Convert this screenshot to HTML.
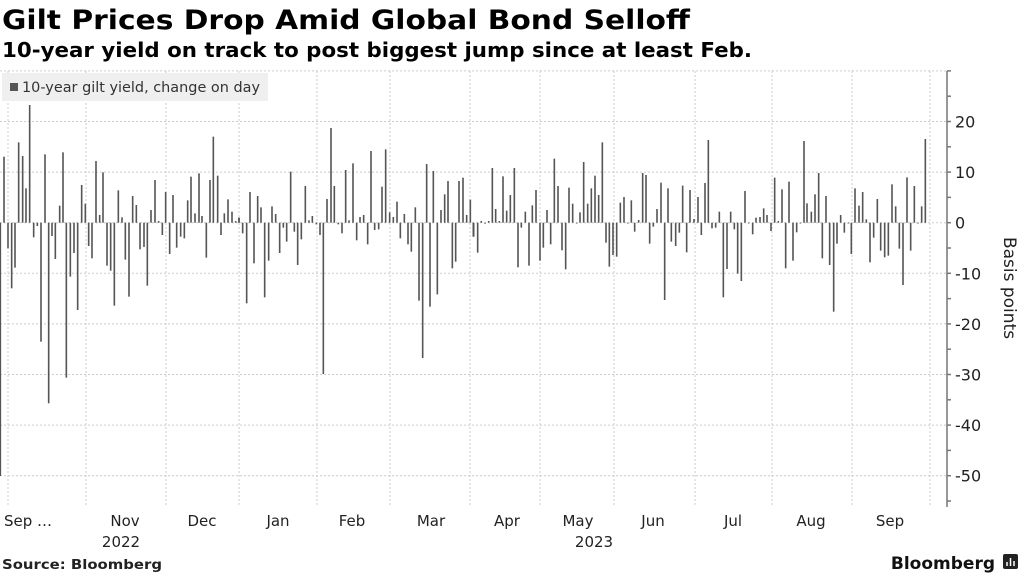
<!DOCTYPE html>
<html><head><meta charset="utf-8"><style>
body{margin:0;background:#fff;width:1024px;height:576px;overflow:hidden;font-family:"DejaVu Sans","Liberation Sans",sans-serif;}
svg{position:absolute;left:0;top:0}
</style></head><body>
<svg width="1024" height="576" xmlns="http://www.w3.org/2000/svg" id="s">
<text x="2" y="29" font-family="DejaVu Sans" font-weight="bold" font-size="27" fill="#000" textLength="688" lengthAdjust="spacingAndGlyphs">Gilt Prices Drop Amid Global Bond Selloff</text>
<text x="2" y="57" font-family="DejaVu Sans" font-weight="bold" font-size="20" fill="#000" textLength="750" lengthAdjust="spacingAndGlyphs">10-year yield on track to post biggest jump since at least Feb.</text>
<g id="grid" stroke="#ccc" stroke-width="1" stroke-dasharray="2,2"></g>
<rect x="2" y="73" width="266" height="28" fill="#efefef"/>
<rect x="10" y="83" width="8" height="8" fill="#555"/>
<text x="22" y="92" font-size="14" fill="#333" textLength="238" lengthAdjust="spacingAndGlyphs">10-year gilt yield, change on day</text>
<g id="bars" fill="#555"></g>
<line x1="947" y1="71" x2="947" y2="507" stroke="#777" stroke-width="1.5"/>
<g id="ticks" stroke="#777" stroke-width="1.5"></g>
<g font-size="16" fill="#222" id="yl"></g>
<text transform="translate(1004,288) rotate(90)" text-anchor="middle" font-size="17" fill="#222">Basis points</text>
<g font-size="15" fill="#222" text-anchor="middle">
<text x="28" y="526">Sep …</text><text x="125" y="526">Nov</text><text x="202" y="526">Dec</text><text x="278" y="526">Jan</text><text x="352" y="526">Feb</text><text x="431" y="526">Mar</text><text x="507" y="526">Apr</text><text x="578" y="526">May</text><text x="653" y="526">Jun</text><text x="733" y="526">Jul</text><text x="811" y="526">Aug</text><text x="890" y="526">Sep</text>
<text x="121" y="547">2022</text><text x="594" y="547">2023</text>
</g>
<text x="2" y="569" font-size="13" font-weight="bold" fill="#222" textLength="160" lengthAdjust="spacingAndGlyphs">Source: Bloomberg</text>
<text x="995" y="569" font-size="17" font-weight="bold" fill="#111" text-anchor="end">Bloomberg</text>
<rect x="1003" y="554" width="15" height="15" rx="2" fill="#222"/>
<g stroke="#fff" stroke-width="1.5"><line x1="1007" y1="566" x2="1007" y2="562"/><line x1="1010.5" y1="566" x2="1010.5" y2="558"/><line x1="1014" y1="566" x2="1014" y2="561"/></g>
</svg>
<script>
var NS="http://www.w3.org/2000/svg";
function el(p,t,a){var e=document.createElementNS(NS,t);for(var k in a)e.setAttribute(k,a[k]);document.getElementById(p).appendChild(e);return e;}
var Z=222.7,S=5.06;
[8,86,166,239,317,390,470,540,614,695,772,852,930].forEach(function(x){el("grid","line",{x1:x,y1:71,x2:x,y2:507});});
for(var v=30;v>=-50;v-=10){var y=Z-v*S;el("grid","line",{x1:0,y1:y,x2:947,y2:y});}
for(var v=30;v>=-55;v-=5){var y=Z-v*S;el("ticks","line",{x1:947,y1:y,x2:951,y2:y});
 if(v%10==0&&v<30){var t=el("yl","text",{x:955,y:y+6});t.textContent=v;}}
var d=[
[0,[[1,1143],[12,185],[24,460],[35,580],[45,518],[56,142],[68,183],[78,280],[89,30],[101,427],[112,393],[123,740],[135,178],[146,925],[156,423],[166,492],[179,332],[189,172],[199,848],[211,545],[222,474],[233,645],[245,270],[256,326],[266,453],[276,490],[288,198],[299,360],[309,232],[321,512],[332,527],[343,632],[355,286],[366,367],[376,494],[387,605],[398,303],[409,330],[420,463],[432,456],[442,572],[453,345],[465,255],[476,378],[487,420],[497,291],[509,477],[519,300],[530,458],[542,425],[553,430],[563,316],[573,245],[585,355],[597,235],[606,363],[619,488],[630,255],[640,125],[653,242],[663,420],[673,355],[684,313],[696,350],[707,378],[717,368]]],
[235,[[12,368],[23,415],[35,625],[45,291],[57,505],[68,303],[78,337],[89,607],[101,497],[111,334],[122,357],[134,474],[145,398],[155,440],[167,230],[178,410],[188,510],[199,433],[211,273],[222,376],[232,363],[244,388],[255,420],[265,837],[276,312],[288,99],[298,273],[310,388],[321,415],[332,225],[342,376],[354,205],[365,436],[375,366],[386,360],[398,448],[408,168],[419,405],[431,403],[441,275],[452,163],[464,352],[475,366],[486,320],[496,430],[508,357],[519,448],[529,470],[541,337],[552,617],[563,789],[575,207],[585,635],[595,228],[607,598],[618,345],[629,298],[639,258],[652,520],[662,500],[672,258],[684,248],[695,360],[706,314],[716,425]]],
[470,[[10,425],[23,473],[34,378],[45,386],[56,378],[67,219],[77,342],[88,378],[99,244],[110,347],[121,300],[133,219],[144,517],[154,398],[166,350],[177,512],[187,331],[198,285],[210,497],[220,458],[231,345],[242,448],[253,191],[264,273],[276,466],[287,523],[297,278],[308,326],[320,385],[330,352],[341,201],[353,326],[364,280],[375,242],[386,300],[397,142],[408,443],[418,515],[429,480],[440,485],[451,323],[462,306],[473,385],[484,316],[494,410],[506,375],[518,234],[528,240],[539,446],[550,395],[561,342],[573,263],[584,615],[594,280],[604,440],[617,453],[628,413],[638,272],[650,472],[660,285],[672,372],[684,306],[694,420],[705,264],[715,135]]],
[705,[[21,400],[32,398],[43,350],[55,607],[66,522],[77,350],[88,403],[98,536],[109,558],[120,288],[131,383],[143,418],[153,368],[165,366],[176,340],[186,360],[198,408],[209,248],[220,378],[231,283],[242,520],[252,260],[264,497],[275,412],[286,383],[297,138],[306,325],[319,350],[330,298],[341,234],[352,490],[363,303],[374,510],[386,650],[396,446],[407,360],[418,413],[430,383],[439,477],[450,280],[462,332],[473,291],[484,373],[495,502],[506,428],[517,312],[527,467],[539,487],[550,482],[561,268],[572,334],[583,461],[594,570],[606,247],[617,467],[628,273],[639,383],[650,334],[661,132]]]
];
d.forEach(function(g){g[1].forEach(function(b){var x=g[0]+b[0]/3,y=95+b[1]/3;var t=Math.min(y,Z),h=Math.max(Math.abs(y-Z),0.8);el("bars","rect",{x:x-0.8,y:t,width:1.6,height:h});});});
</script>
</body></html>
